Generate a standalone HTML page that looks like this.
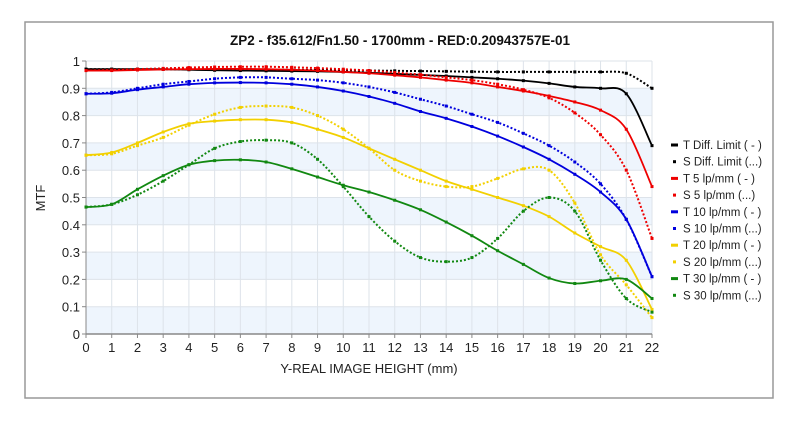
<!DOCTYPE html>
<html><head><meta charset="utf-8"><style>
body{margin:0;background:#fff;font-family:"Liberation Sans",sans-serif}
</style></head><body>
<svg id="s" width="800" height="418" xmlns="http://www.w3.org/2000/svg" font-family="Liberation Sans, sans-serif">
<rect x="25" y="22" width="748" height="376" fill="#fff" stroke="#999" stroke-width="1.5"/>
<g id="bg"></g>
<text x="400" y="45" text-anchor="middle" font-size="13.5" font-weight="bold" fill="#111">ZP2 - f35.612/Fn1.50 - 1700mm - RED:0.20943757E-01</text>
<text transform="translate(45,198) rotate(-90)" text-anchor="middle" font-size="13" fill="#222">MTF</text>
<text x="369" y="373" text-anchor="middle" font-size="13" fill="#222">Y-REAL IMAGE HEIGHT (mm)</text>
<g id="series" fill="none"></g>
<g id="leg" font-size="11.5" fill="#222"></g>
</svg>
<script>
const X0=86,X1=652,Y0=334,Y1=61;
const px=x=>X0+x*(X1-X0)/22, py=v=>Y0-v*(Y0-Y1);
const NS="http://www.w3.org/2000/svg";
function el(p,t,a,txt){const e=document.createElementNS(NS,t);for(const k in a)e.setAttribute(k,a[k]);if(txt!==undefined)e.textContent=txt;p.appendChild(e);return e;}
const bg=document.getElementById('bg');
for(let i=0;i<10;i+=2){el(bg,'rect',{x:X0,y:py((i+1)/10),width:X1-X0,height:(Y0-Y1)/10,fill:'#eef5fd'});}
for(let i=0;i<=22;i++){el(bg,'line',{x1:px(i),x2:px(i),y1:Y1,y2:Y0,stroke:'#dde3ea','stroke-width':1});
 el(bg,'line',{x1:px(i),x2:px(i),y1:Y0,y2:Y0+4,stroke:'#888'});
 el(bg,'text',{x:px(i),y:Y0+18,'text-anchor':'middle','font-size':13,fill:'#222'},String(i));}
for(let i=0;i<=10;i++){const v=i/10;el(bg,'line',{x1:X0,x2:X1,y1:py(v),y2:py(v),stroke:'#dde3ea'});
 el(bg,'line',{x1:X0-4,x2:X0,y1:py(v),y2:py(v),stroke:'#888'});
 el(bg,'text',{x:X0-6,y:py(v)+5,'text-anchor':'end','font-size':13,fill:'#222'},i==0?'0':i==10?'1':v.toFixed(1));}
el(bg,'line',{x1:X0,x2:X0,y1:Y1,y2:Y0,stroke:'#888'});
el(bg,'line',{x1:X0,x2:X1,y1:Y0,y2:Y0,stroke:'#888','stroke-width':1.5});
const S=[
['T Diff. Limit ( - )','#000',0,[.97,.97,.97,.97,.968,.966,.965,.964,.963,.962,.96,.957,.953,.949,.945,.94,.935,.928,.918,.905,.9,.88,.69]],
['S Diff. Limit (...)','#000',1,[.97,.97,.97,.97,.97,.97,.97,.969,.968,.967,.966,.965,.964,.963,.962,.961,.96,.96,.96,.96,.96,.955,.9]],
['T 5 lp/mm ( - )','#e00',0,[.965,.965,.967,.969,.97,.971,.971,.97,.968,.965,.96,.955,.948,.94,.93,.92,.905,.89,.872,.85,.82,.75,.54]],
['S 5 lp/mm (...)','#e00',1,[.965,.967,.97,.973,.976,.978,.979,.979,.977,.974,.97,.965,.958,.95,.94,.93,.915,.895,.865,.81,.73,.6,.35]],
['T 10 lp/mm ( - )','#00d',0,[.88,.882,.895,.905,.915,.92,.921,.92,.915,.905,.89,.87,.845,.815,.79,.76,.725,.685,.64,.585,.52,.42,.21]],
['S 10 lp/mm (...)','#00d',1,[.88,.885,.9,.915,.925,.935,.94,.94,.935,.93,.92,.905,.885,.86,.835,.805,.775,.735,.69,.63,.55,.42,.21]],
['T 20 lp/mm ( - )','#f2d000',0,[.655,.665,.7,.74,.77,.78,.785,.785,.775,.75,.72,.68,.64,.6,.56,.53,.5,.47,.43,.37,.32,.27,.09]],
['S 20 lp/mm (...)','#f2d000',1,[.655,.66,.69,.72,.765,.805,.83,.835,.83,.8,.75,.68,.6,.56,.54,.54,.57,.605,.6,.48,.29,.18,.06]],
['T 30 lp/mm ( - )','#118811',0,[.465,.475,.53,.58,.62,.635,.638,.63,.605,.575,.545,.52,.49,.455,.41,.36,.305,.255,.205,.185,.195,.2,.13]],
['S 30 lp/mm (...)','#118811',1,[.465,.475,.51,.56,.62,.68,.705,.71,.7,.64,.54,.43,.34,.28,.265,.28,.35,.45,.5,.45,.27,.13,.08]]];
const g=document.getElementById('series'),lg=document.getElementById('leg');
S.forEach((s,k)=>{const P=s[3].map((v,i)=>[px(i),py(v)]);let d='M'+P[0].join(',');
 for(let i=0;i<P.length-1;i++){const a=P[Math.max(0,i-1)],b=P[i],c=P[i+1],e=P[Math.min(P.length-1,i+2)];
  d+=` C${b[0]+(c[0]-a[0])/6},${b[1]+(c[1]-a[1])/6} ${c[0]-(e[0]-b[0])/6},${c[1]-(e[1]-b[1])/6} ${c[0]},${c[1]}`;}
 el(g,'path',{d:d,stroke:s[1],'stroke-width':s[2]?2:1.8,'stroke-dasharray':s[2]?'2,2':'none'});
 P.forEach(p=>el(g,'rect',{x:p[0]-1.5,y:p[1]-1.5,width:3,height:3,fill:s[1]}));
 const ly=145+k*16.7;
 if(s[2])el(lg,'rect',{x:673,y:ly-1.5,width:3,height:3,fill:s[1]});else el(lg,'rect',{x:671,y:ly-1.5,width:7,height:3,fill:s[1]});
 el(lg,'text',{x:683,y:ly+4},s[0]);});
</script>
</body></html>
